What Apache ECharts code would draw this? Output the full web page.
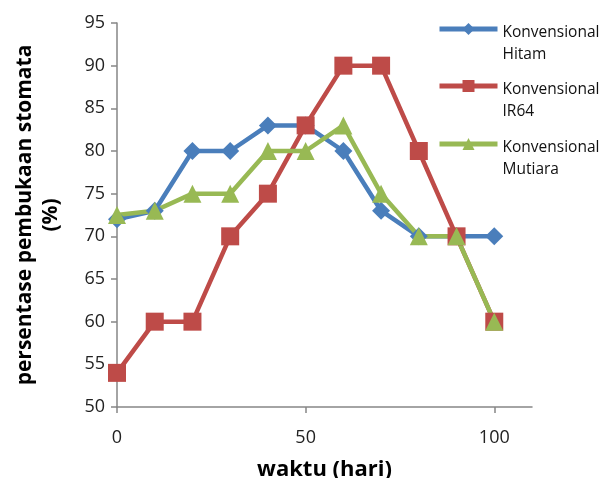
<!DOCTYPE html>
<html>
<head>
<meta charset="utf-8">
<script src="https://cdn.jsdelivr.net/npm/echarts@6/dist/echarts.min.js"></script>
<style>
  html, body { margin: 0; padding: 0; background: #fff; }
  #chart { width: 602px; height: 478px; }
</style>
</head>
<body>
<div id="chart"></div>
<script>
// Waktu pengamatan (hari)
var days = [0, 10, 20, 30, 40, 50, 60, 70, 80, 90, 100];
// Persentase pembukaan stomata tiap varietas
var hitam   = [72, 73, 80, 80, 83, 83, 80, 73, 70, 70, 70];
var ir64    = [54, 60, 60, 70, 75, 83, 90, 90, 80, 70, 60];
var mutiara = [72.5, 73, 75, 75, 80, 80, 83, 75, 70, 70, 60];
var seriesNames = ['Konvensional Hitam', 'Konvensional IR64', 'Konvensional Mutiara'];
var xTicks = [0, 50, 100];

var FONT = 'Open Sans';
var colors = ['#4A7EBB', '#BE4B48', '#98B954'];

function pairs(vals) {
  return days.map(function (d, i) { return [d, vals[i]]; });
}

var chart = echarts.init(document.getElementById('chart'), null, { renderer: 'canvas' });

function lineSeries(name, vals, symbol, size, color) {
  return {
    name: name,
    type: 'line',
    data: pairs(vals),
    symbol: symbol,
    symbolSize: size,
    showAllSymbol: true,
    lineStyle: { color: color, width: 4.5 },
    itemStyle: { color: color, borderWidth: 0 },
    emphasis: { disabled: true },
    animation: false
  };
}

// One legend per series; a spacer row above the name keeps the icon level
// with the first text line
function legendFor(name, top) {
  return {
    orient: 'vertical',
    left: 437,
    top: top,
    padding: 0,
    itemWidth: 58,
    itemHeight: 15,
    textStyle: {
      fontFamily: FONT, fontSize: 15.5, color: '#111',
      rich: {
        pad: { lineHeight: 30, fontSize: 15.5 },
        t: { fontFamily: FONT, fontSize: 15.5, color: '#111', lineHeight: 22 }
      }
    },
    lineStyle: { width: 5 },
    formatter: function (n) {
      var parts = n.split(' ');
      return '{pad| }\n{t|' + parts[0] + '}\n{t|' + parts[1] + '}';
    },
    data: [name]
  };
}

chart.setOption({
  animation: false,
  color: colors,
  grid: { left: 117, right: 70, top: 23, bottom: 71, containLabel: false, outerBoundsMode: 'none' },
  legend: [
    legendFor(seriesNames[0], -1),
    legendFor(seriesNames[1], 56),
    legendFor(seriesNames[2], 114)
  ],
  xAxis: {
    type: 'value',
    min: 0,
    max: 110,
    name: 'waktu (hari)',
    nameLocation: 'middle',
    nameGap: 52,
    nameTextStyle: { fontFamily: FONT, fontSize: 22, fontWeight: 'bold', color: '#000' },
    axisLine: { lineStyle: { color: '#868686', width: 1.5 } },
    axisTick: { show: true, length: 6, lineStyle: { color: '#868686', width: 1.5 }, customValues: xTicks },
    axisLabel: { fontFamily: FONT, fontSize: 18, color: '#222', margin: 22, customValues: xTicks },
    splitLine: { show: false }
  },
  yAxis: {
    type: 'value',
    min: 50,
    max: 95,
    interval: 5,
    name: 'persentase pembukaan stomata\n(%)',
    nameLocation: 'middle',
    nameGap: 53,
    nameRotate: 90,
    nameTextStyle: { fontFamily: FONT, fontSize: 21, fontWeight: 'bold', color: '#000', lineHeight: 26 },
    axisLine: { show: true, lineStyle: { color: '#868686', width: 1.5 } },
    axisTick: { show: true, length: 6, lineStyle: { color: '#868686', width: 1.5 } },
    axisLabel: { fontFamily: FONT, fontSize: 18, color: '#222', margin: 12 },
    splitLine: { show: false }
  },
  series: [
    lineSeries(seriesNames[0], hitam, 'diamond', 18, colors[0]),
    lineSeries(seriesNames[1], ir64, 'rect', 18, colors[1]),
    lineSeries(seriesNames[2], mutiara, 'triangle', 18, colors[2])
  ]
});
</script>
</body>
</html>
